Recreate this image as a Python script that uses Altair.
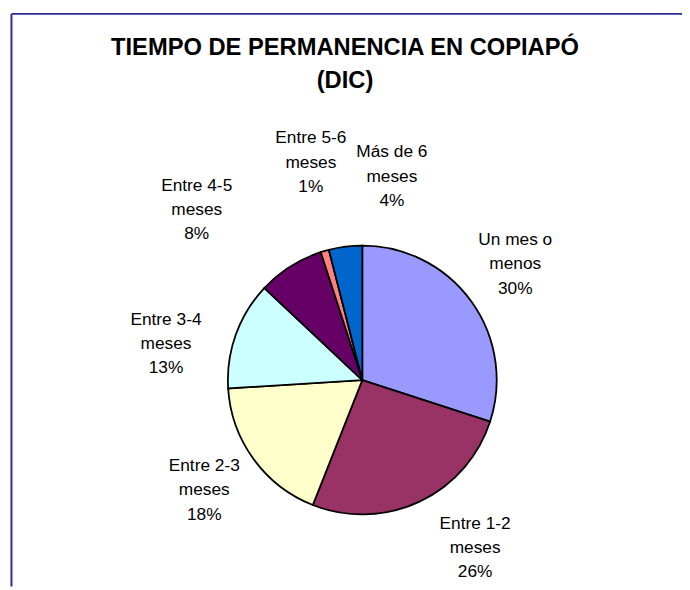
import altair as alt
import pandas as pd

# ---- data ----
categories = ["Un mes o menos", "Entre 1-2 meses", "Entre 2-3 meses", "Entre 3-4 meses",
              "Entre 4-5 meses", "Entre 5-6 meses", "Más de 6 meses"]
label_lines = ["Un mes o\nmenos", "Entre 1-2\nmeses", "Entre 2-3\nmeses", "Entre 3-4\nmeses",
               "Entre 4-5\nmeses", "Entre 5-6\nmeses", "Más de 6\nmeses"]
values = [30, 26, 18, 13, 8, 1, 4]
title_lines = ["TIEMPO DE PERMANENCIA EN COPIAPÓ", "(DIC)"]

# ---- styling ----
colors = ["#9999FF", "#993366", "#FFFFCC", "#CCFFFF", "#660066", "#FF8080", "#0066CC"]
label_shift = [-0.3, -2.4, 0.3, -2.6, -3.3, 0.8, 4.3]   # label angle nudge (percent of circle)
label_radius = [194, 205, 195, 202, 240, 226, 208]      # label distance from centre (px)

W, H = 682, 582
CX, CY, R = 358.5, 373, 136
FONT = "Liberation Sans"
FS, LH = 17.5, 24.5

df = pd.DataFrame({
    "cat": categories,
    "lines": label_lines,
    "value": values,
    "idx": list(range(len(values))),
    "shift": label_shift,
    "lr": label_radius,
})

base = alt.Chart(df).transform_window(
    cum="sum(value)", sort=[alt.SortField("idx")]
).transform_calculate(
    start="datum.cum - datum.value",
    mid="datum.cum - datum.value / 2 + datum.shift",
    label="datum.lines + '\\n' + datum.value + '%'",
)

theta_scale = alt.Scale(domain=[0, 100])

pie = base.mark_arc(outerRadius=R, stroke="black", strokeWidth=1.8).encode(
    theta=alt.Theta("start:Q", scale=theta_scale),
    theta2="cum:Q",
    color=alt.Color("cat:N", scale=alt.Scale(domain=categories, range=colors), legend=None),
    x=alt.value(CX),
    y=alt.value(CY),
)

labels = base.mark_text(
    font=FONT, fontSize=FS, lineHeight=LH, lineBreak="\n", dy=-LH,
    align="center", baseline="middle", color="black",
).encode(
    theta=alt.Theta("mid:Q", scale=theta_scale),
    radius=alt.Radius("lr:Q", scale=None),
    text="label:N",
    x=alt.value(CX),
    y=alt.value(CY),
)

one = alt.Chart(pd.DataFrame({"k": [0]}))
frame_left = one.mark_rule(color="#2A2A9A", strokeWidth=2).encode(
    x=alt.value(3.5), y=alt.value(2.5), y2=alt.value(H))
frame_top = one.mark_rule(color="#2A2A9A", strokeWidth=2).encode(
    x=alt.value(3.5), x2=alt.value(W), y=alt.value(2.5))

t1 = one.mark_text(text=title_lines[0], font=FONT, fontSize=24, fontWeight="bold",
                   align="center", baseline="alphabetic", color="black").encode(
    x=alt.value(341), y=alt.value(44))
t2 = one.mark_text(text=title_lines[1], font=FONT, fontSize=24, fontWeight="bold",
                   align="center", baseline="alphabetic", color="black").encode(
    x=alt.value(341), y=alt.value(77))

chart = alt.layer(frame_left, frame_top, pie, labels, t1, t2).properties(
    width=W, height=H, padding=0, autosize=alt.AutoSizeParams(type="none"),
    background="white",
).configure_view(stroke=None)

chart.save("out.html", embed_options={"renderer": "svg", "actions": False})
